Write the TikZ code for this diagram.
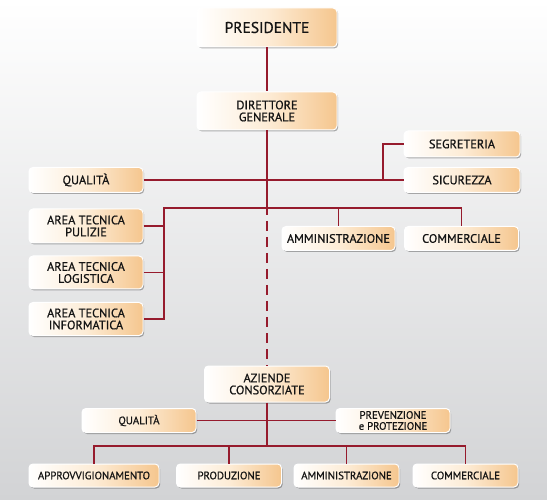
\documentclass[tikz,border=0pt]{standalone}
\usepackage{fontspec}
\setmainfont{PT Sans}
\newfontfamily\boxfont[FakeBold=0.8]{PT Sans}
\usetikzlibrary{shadows}
\definecolor{linec}{RGB}{150,27,45}
\definecolor{peach}{RGB}{245,198,142}
\definecolor{cream}{RGB}{253,236,214}
\definecolor{txt}{RGB}{20,20,20}
\definecolor{bgbot}{RGB}{210,211,213}
\tikzset{
  box/.style={rounded corners=4pt, draw=white, line width=1pt,
    left color=white, right color=peach, middle color=cream,
    drop shadow={shadow xshift=1.2pt, shadow yshift=-1.5pt, opacity=0.3, fill=black},
    align=center, inner sep=0pt, text=txt},
  fbig/.style={font=\boxfont\fontsize{15.5}{17}\selectfont},
  fmid/.style={font=\boxfont\fontsize{12.3}{12}\selectfont},
  fsmall/.style={font=\boxfont\fontsize{10.8}{11}\selectfont},
  conn/.style={draw=linec, line width=1.8pt},
}
\begin{document}
\begin{tikzpicture}[x=1pt,y=-1pt]
\useasboundingbox (0,0) rectangle (547,500);
\fill[top color=white, bottom color=bgbot] (0,0) rectangle (547,500);
% nodes
\node[box,fbig,minimum width=140pt,minimum height=39pt] (pres) at (267,27.5) {PRESIDENTE};
\node[box,fmid,minimum width=140pt,minimum height=38pt] (dir) at (267,111) {DIRETTORE\\GENERALE};
\node[box,fmid,minimum width=116pt,minimum height=26pt] (segr) at (462,144) {SEGRETERIA};
\node[box,fmid,minimum width=116pt,minimum height=25pt] (sicu) at (462,180) {SICUREZZA};
\node[box,fmid,minimum width=114pt,minimum height=25pt] (qual) at (86,180) {QUALITÀ};
\node[box,fmid,minimum width=114pt,minimum height=34pt] (pul) at (86,226) {AREA TECNICA\\PULIZIE};
\node[box,fmid,minimum width=114pt,minimum height=33pt] (log) at (86,272.5) {AREA TECNICA\\LOGISTICA};
\node[box,fmid,minimum width=114pt,minimum height=33pt] (inf) at (86,319) {AREA TECNICA\\INFORMATICA};
\node[box,fmid,minimum width=113pt,minimum height=24pt] (amm) at (338.5,238.5) {AMMINISTRAZIONE};
\node[box,fmid,minimum width=114pt,minimum height=24pt] (comm) at (461.5,238.5) {COMMERCIALE};
\node[box,fmid,minimum width=125pt,minimum height=36pt] (az) at (267,384) {AZIENDE\\CONSORZIATE};
\node[box,fsmall,minimum width=114pt,minimum height=24pt] (qual2) at (139,420.5) {QUALITÀ};
\node[box,fsmall,minimum width=114pt,minimum height=24pt] (prev) at (393,420.5) {PREVENZIONE\\e PROTEZIONE};
\node[box,fsmall,minimum width=130pt,minimum height=23pt] (appr) at (94,475.5) {APPROVVIGIONAMENTO};
\node[box,fsmall,minimum width=105pt,minimum height=23pt] (prod) at (229,475.5) {PRODUZIONE};
\node[box,fsmall,minimum width=105pt,minimum height=23pt] (amm2) at (346.5,475.5) {AMMINISTRAZIONE};
\node[box,fsmall,minimum width=105pt,minimum height=23pt] (comm2) at (465.5,475.5) {COMMERCIALE};
% junction coordinates
\coordinate (jseg) at (383,180);
\coordinate (jl) at (164,208);
\coordinate (jd) at (267,215);
\coordinate (jbus) at (267,446);
% connectors
\draw[conn] (pres.south) -- (dir.north);
\draw[conn] (dir.south) -- (jd);
\draw[conn, dash pattern=on 10pt off 6pt, dash phase=10pt] (jd) -- (az.north);
\draw[conn] (qual.east) -- (sicu.west);
\draw[conn] (segr.west) -| (jseg);
\draw[conn] (comm.north) |- (jl) |- (inf.east);
\draw[conn] (amm.north) -- (amm.north |- jl);
\draw[conn] (pul.east) -- (pul.east -| jl);
\draw[conn] (log.east) -- (log.east -| jl);
\draw[conn] (az.south) -- (jbus);
\draw[conn] (qual2.east) -- (prev.west);
\draw[conn] (appr.north) |- (jbus) -| (comm2.north);
\draw[conn] (prod.north) -- (prod.north |- jbus);
\draw[conn] (amm2.north) -- (amm2.north |- jbus);
\end{tikzpicture}
\end{document}
